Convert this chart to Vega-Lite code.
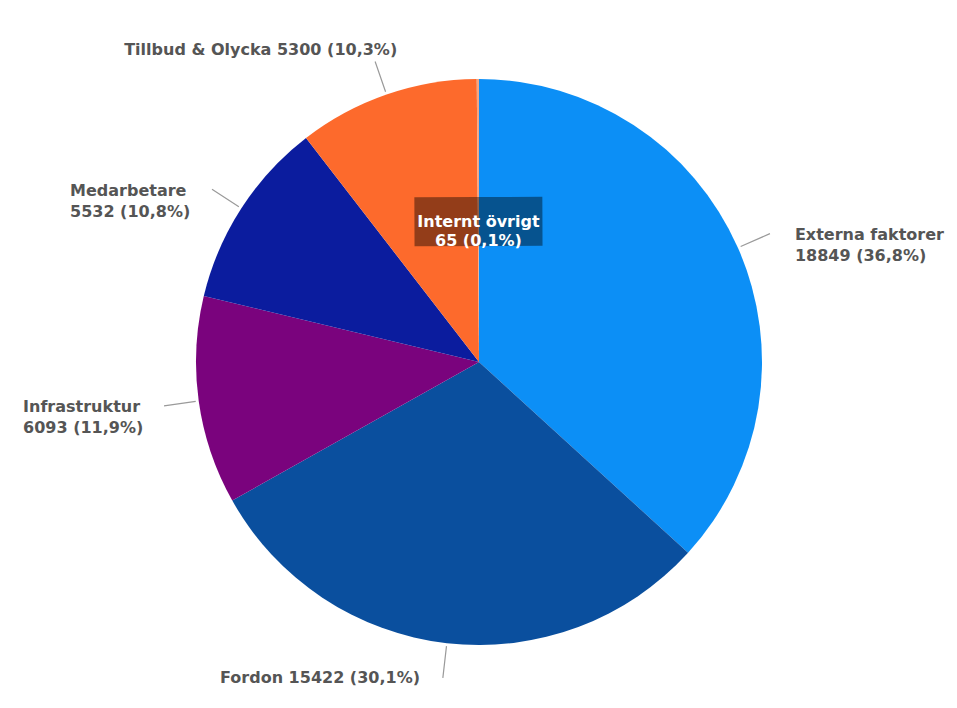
{
  "$schema": "https://vega.github.io/schema/vega-lite/v6.json",
  "width": 949,
  "height": 699,
  "autosize": {"type": "none"},
  "padding": {"left": 8, "top": 9, "right": 0, "bottom": 0},
  "background": "white",
  "config": {"view": {"stroke": "#eeeeee"}, "font": "DejaVu Sans"},
  "data": {
    "values": [
      {"idx": 1, "cat": "Externa faktorer", "value": 18849, "label": "Externa faktorer\n18849 (36,8%)"},
      {"idx": 2, "cat": "Fordon", "value": 15422, "label": "Fordon 15422 (30,1%)"},
      {"idx": 3, "cat": "Infrastruktur", "value": 6093, "label": "Infrastruktur\n6093 (11,9%)"},
      {"idx": 4, "cat": "Medarbetare", "value": 5532, "label": "Medarbetare\n5532 (10,8%)"},
      {"idx": 5, "cat": "Tillbud & Olycka", "value": 5300, "label": "Tillbud & Olycka 5300 (10,3%)"},
      {"idx": 6, "cat": "Internt övrigt", "value": 65, "label": "Internt övrigt\n65 (0,1%)"}
    ]
  },
  "encoding": {
    "theta": {"field": "value", "type": "quantitative", "stack": true},
    "order": {"field": "idx", "type": "quantitative"}
  },
  "layer": [
    {
      "mark": {"type": "arc", "outerRadius": 283, "xOffset": -3.5, "yOffset": 3.5},
      "encoding": {
        "color": {
          "field": "cat",
          "type": "nominal",
          "scale": {
            "domain": ["Externa faktorer", "Fordon", "Infrastruktur", "Medarbetare", "Tillbud & Olycka", "Internt övrigt"],
            "range": ["#0c8ff6", "#0a4f9e", "#7a037d", "#0b1c9e", "#fd6a2c", "#f4a582"]
          },
          "legend": null
        }
      }
    },
    {
      "mark": {"type": "arc", "radius": 318, "radius2": 286, "padAngle": 3.1416, "fillOpacity": 0, "stroke": "#9a9a9a", "strokeWidth": 1.2, "xOffset": -3.5, "yOffset": 3.5},
      "encoding": {
        "strokeOpacity": {"condition": {"test": "datum.cat === 'Internt övrigt'", "value": 0}, "value": 1}
      }
    },
    {
      "mark": {"type": "arc", "radius": 165, "radius2": 116, "padAngle": 3.1416, "fillOpacity": 0, "stroke": "black", "strokeWidth": 128, "strokeJoin": "miter", "xOffset": -3.5, "yOffset": 3.5},
      "encoding": {
        "strokeOpacity": {"condition": {"test": "datum.cat === 'Internt övrigt'", "value": 0.42}, "value": 0}
      }
    },
    {
      "mark": {"type": "text", "radius": 140, "align": "center", "baseline": "middle", "fontSize": 16, "fontWeight": "bold", "fill": "white", "lineBreak": "\n", "lineHeight": 19, "dx": -3.5, "dy": 3},
      "encoding": {
        "text": {"condition": {"test": "datum.cat === 'Internt övrigt'", "field": "label"}, "value": ""}
      }
    },
    {
      "mark": {"type": "text", "radius": 330, "align": "left", "baseline": "middle", "fontSize": 16, "fontWeight": "bold", "fill": "#555555", "lineBreak": "\n", "lineHeight": 21, "dx": 10.5, "dy": 9.5},
      "encoding": {
        "text": {"condition": {"test": "datum.cat === 'Externa faktorer'", "field": "label"}, "value": ""}
      }
    },
    {
      "mark": {"type": "text", "radius": 330, "align": "right", "baseline": "middle", "fontSize": 16, "fontWeight": "bold", "fill": "#555555", "lineBreak": "\n", "lineHeight": 21, "dx": -25, "dy": -8.4},
      "encoding": {
        "text": {"condition": {"test": "datum.cat === 'Fordon'", "field": "label"}, "value": ""}
      }
    },
    {
      "mark": {"type": "text", "radius": 330, "align": "left", "baseline": "middle", "fontSize": 16, "fontWeight": "bold", "fill": "#555555", "lineBreak": "\n", "lineHeight": 21, "dx": -132.6, "dy": 3.2},
      "encoding": {
        "text": {"condition": {"test": "datum.cat === 'Infrastruktur'", "field": "label"}, "value": ""}
      }
    },
    {
      "mark": {"type": "text", "radius": 330, "align": "left", "baseline": "middle", "fontSize": 16, "fontWeight": "bold", "fill": "#555555", "lineBreak": "\n", "lineHeight": 21, "dx": -135.4, "dy": 11.8},
      "encoding": {
        "text": {"condition": {"test": "datum.cat === 'Medarbetare'", "field": "label"}, "value": ""}
      }
    },
    {
      "mark": {"type": "text", "radius": 330, "align": "right", "baseline": "middle", "fontSize": 16, "fontWeight": "bold", "fill": "#555555", "lineBreak": "\n", "lineHeight": 21, "dx": 22.5, "dy": 3.4},
      "encoding": {
        "text": {"condition": {"test": "datum.cat === 'Tillbud & Olycka'", "field": "label"}, "value": ""}
      }
    }
  ]
}
